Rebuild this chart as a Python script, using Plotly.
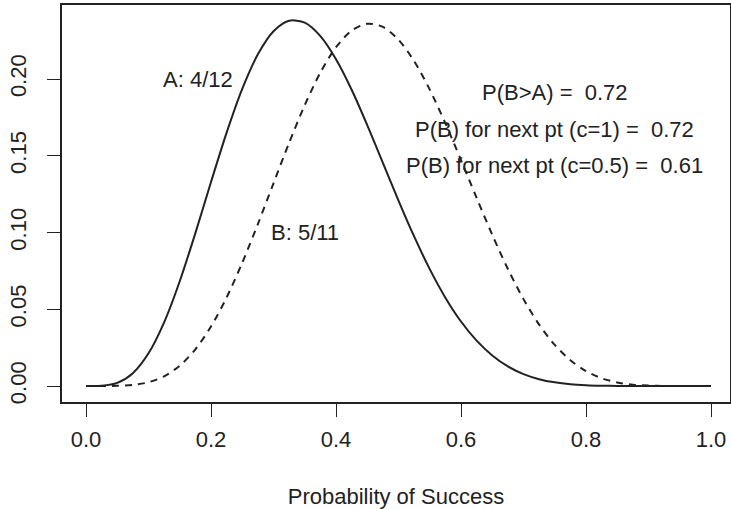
import plotly.graph_objects as go

# probability grid
p = [0.000, 0.025, 0.050, 0.075, 0.100, 0.125, 0.150, 0.175, 0.200, 0.225,
     0.250, 0.275, 0.300, 0.325, 0.350, 0.375, 0.400, 0.425, 0.450, 0.475,
     0.500, 0.525, 0.550, 0.575, 0.600, 0.625, 0.650, 0.675, 0.700, 0.725,
     0.750, 0.775, 0.800, 0.825, 0.850, 0.875, 0.900, 0.925, 0.950, 0.975, 1.000]
# A: 4/12 (solid)
a_vals = [0.0, 0.00016, 0.00205, 0.00839, 0.02131, 0.04153, 0.06828, 0.09963,
          0.13288, 0.16509, 0.19358, 0.21607, 0.23114, 0.23797, 0.23669, 0.22791,
          0.21284, 0.19300, 0.16996, 0.14543, 0.12085, 0.09745, 0.07617, 0.05758,
          0.04204, 0.02954, 0.01990, 0.01279, 0.00780, 0.00447, 0.00239, 0.00117,
          0.00052, 0.00020, 0.00007, 0.00002, 0.0, 0.0, 0.0, 0.0, 0.0]
# B: 5/11 (dashed)
b_vals = [0.0, 0.0, 0.00011, 0.00069, 0.00246, 0.00633, 0.01323, 0.02391,
          0.03876, 0.05773, 0.08030, 0.10553, 0.13208, 0.15845, 0.18300, 0.20421,
          0.22072, 0.23153, 0.23598, 0.23392, 0.22559, 0.21168, 0.19308, 0.17112,
          0.14715, 0.12251, 0.09854, 0.07625, 0.05661, 0.04002, 0.02677, 0.01676,
          0.00969, 0.00507, 0.00234, 0.00090, 0.00027, 0.00006, 0.00001, 0.0, 0.0]

x_ticks = [0.0, 0.2, 0.4, 0.6, 0.8, 1.0]
x_tick_text = ["0.0", "0.2", "0.4", "0.6", "0.8", "1.0"]
y_ticks = [0.00, 0.05, 0.10, 0.15, 0.20]
y_tick_text = ["0.00", "0.05", "0.10", "0.15", "0.20"]

labels = ["A: 4/12", "B: 5/11", "P(B>A) =  0.72",
          "P(B) for next pt (c=1) =  0.72", "P(B) for next pt (c=0.5) =  0.61"]
label_x = [0.179, 0.35, 0.75, 0.75, 0.75]
label_y = [0.200, 0.100, 0.1915, 0.1668, 0.1434]

FONT = "Liberation Sans, Arial, sans-serif"
INK = "#222222"
FS = 22

fig = go.Figure()
fig.add_trace(go.Scatter(x=p, y=a_vals, mode="lines", line=dict(color=INK, width=2, shape="spline", smoothing=0.8),
                         showlegend=False, hoverinfo="skip"))
fig.add_trace(go.Scatter(x=p, y=b_vals, mode="lines",
                         line=dict(color=INK, width=2, shape="spline", smoothing=0.8, dash="7px,6px"),
                         showlegend=False, hoverinfo="skip"))

for t, xx, yy in zip(labels, label_x, label_y):
    fig.add_annotation(x=xx, y=yy, xref="x", yref="y", text=t, showarrow=False,
                       font=dict(family=FONT, size=FS, color=INK), xanchor="center", yanchor="middle")

fig.update_layout(
    width=731, height=509,
    margin=dict(l=62, r=1, t=5, b=107, autoexpand=False),
    paper_bgcolor="white", plot_bgcolor="white",
    font=dict(family=FONT, size=FS, color=INK),
    xaxis=dict(range=[-0.0384, 1.0304], tickvals=x_ticks, ticktext=x_tick_text, automargin=False,
               showgrid=False, zeroline=False, showline=True, mirror=True,
               linecolor=INK, linewidth=1.5, ticks="outside", ticklen=13, tickwidth=1.2,
               tickcolor=INK, ticklabelstandoff=4,
               title=dict(text="Probability of Success", standoff=38, font=dict(size=FS))),
    yaxis=dict(range=[-0.0104, 0.2482], tickvals=y_ticks, ticktext=y_tick_text, automargin=False,
               showgrid=False, zeroline=False, showline=True, mirror=True,
               linecolor=INK, linewidth=1.5, ticks="outside", ticklen=13, tickwidth=1.2,
               tickcolor=INK, tickangle=-90, ticklabelstandoff=12),
)

fig.write_html("out.html", config={"displayModeBar": False},
               post_script="document.body.style.margin='0';document.body.style.padding='0';")
